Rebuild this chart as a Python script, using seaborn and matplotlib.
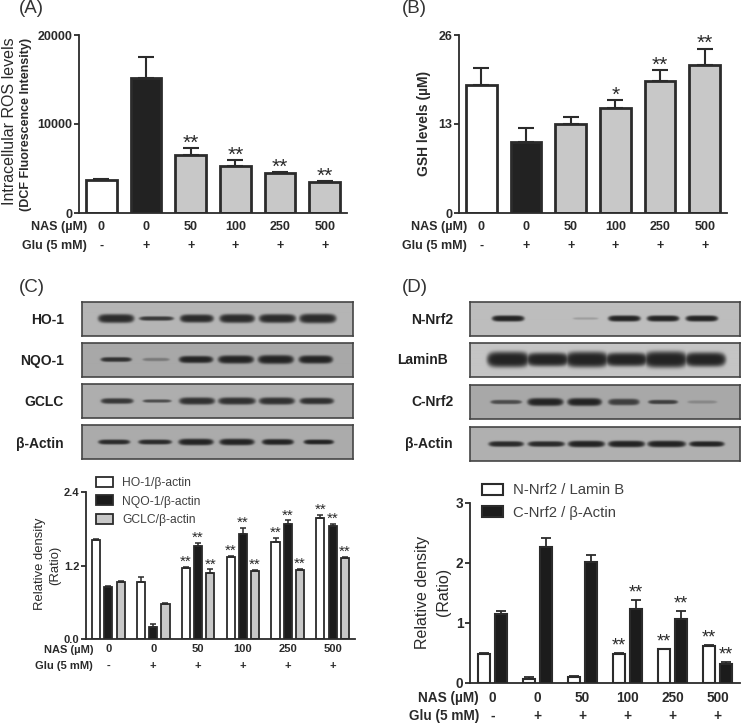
# bar charts and western blot panels, four part figure
import numpy as np
import pandas as pd
import seaborn as sns
from matplotlib import pyplot as plt

# x axis rows
lanes = [0, 1, 2, 3, 4, 5]
nas = ['0', '0', '50', '100', '250', '500']
glu = ['-', '+', '+', '+', '+', '+']

# (A) ROS
ros = [3670, 15170, 6520, 5240, 4460, 3480]
ros_err = [110, 2320, 750, 680, 110, 120]
ros_stars = ['', '', '**', '**', '**', '**']

# (B) GSH
gsh = [18.65, 10.37, 12.95, 15.3, 19.3, 21.6]
gsh_err = [2.55, 2.03, 1.05, 1.15, 1.6, 2.4]
gsh_stars = ['', '', '', '*', '**', '**']

# (C) density
ho1 = [1.61, 0.925, 1.165, 1.344, 1.584, 1.981]
ho1_err = [0.025, 0.08, 0.012, 0.012, 0.07, 0.05]
nqo1 = [0.854, 0.20, 1.513, 1.714, 1.878, 1.84]
nqo1_err = [0.012, 0.045, 0.05, 0.098, 0.06, 0.043]
gclc = [0.936, 0.571, 1.078, 1.116, 1.132, 1.328]
gclc_err = [0.015, 0.017, 0.06, 0.012, 0.012, 0.012]
c_stars = ['', '', '**', '**', '**', '**']
c_names = ['HO-1/β-actin', 'NQO-1/β-actin', 'GCLC/β-actin']

# (D) density
n_nrf2 = [0.49, 0.07, 0.105, 0.49, 0.56, 0.62]
n_nrf2_err = [0.012, 0.025, 0.018, 0.012, 0.012, 0.012]
c_nrf2 = [1.155, 2.27, 2.02, 1.23, 1.075, 0.31]
c_nrf2_err = [0.045, 0.14, 0.11, 0.15, 0.125, 0.04]
d_stars = ['', '', '', '**', '**', '**']
d_names = ['N-Nrf2 / Lamin B', 'C-Nrf2 / β-Actin']

# blot bands, one value per lane: strength, length (lane units), thickness (panel units)
ho1_band = ([0.95, 0.85, 0.95, 0.95, 0.95, 0.95], [0.9, 0.86, 0.84, 0.88, 0.92, 0.92], [0.26, 0.13, 0.24, 0.26, 0.26, 0.28])
nqo1_band = ([0.9, 0.35, 1, 1, 1, 1], [0.78, 0.68, 0.86, 0.9, 0.9, 0.86], [0.14, 0.1, 0.21, 0.24, 0.26, 0.24])
gclc_band = ([0.85, 0.7, 0.9, 0.9, 0.9, 0.9], [0.82, 0.72, 0.9, 0.94, 0.9, 0.86], [0.17, 0.1, 0.22, 0.22, 0.22, 0.2])
actin_c_band = ([0.95, 0.95, 1, 1, 1, 1], [0.78, 0.82, 0.86, 0.86, 0.78, 0.74], [0.15, 0.15, 0.2, 0.2, 0.18, 0.15])
nnrf2_band = ([1, 0, 0.2, 1, 1, 1], [0.84, 0, 0.66, 0.84, 0.84, 0.84], [0.18, 0, 0.07, 0.18, 0.18, 0.18])
lamin_band = ([1, 1, 1, 1, 1, 1], [1.08, 1.1, 1.1, 1.1, 1.1, 1.05], [0.46, 0.4, 0.46, 0.4, 0.48, 0.42])
cnrf2_band = ([0.7, 1, 1, 0.8, 0.8, 0.25], [0.8, 0.92, 0.88, 0.8, 0.76, 0.76], [0.13, 0.24, 0.24, 0.2, 0.13, 0.1])
actin_d_band = ([0.95, 0.95, 1, 1, 1, 1], [0.88, 0.92, 0.92, 0.92, 0.96, 0.88], [0.17, 0.17, 0.2, 0.2, 0.2, 0.17])

W, H = 742, 724
DARK = '#2b2b2b'
TXT = '#2a2a2a'
GREY = '#c8c8c8'

sns.set_style('ticks')
plt.rcParams['font.family'] = ['Liberation Sans', 'DejaVu Sans']
fig = plt.figure(figsize=(W / 100, H / 100), dpi=100)


def axes_px(left, top, right, bottom):
    return fig.add_axes([left / W, 1 - bottom / H, (right - left) / W, (bottom - top) / H])


def txt(x, y, s, **kw):
    kw.setdefault('color', TXT)
    kw.setdefault('va', 'center')
    return fig.text(x / W, 1 - y / H, s, **kw)


def finish_axis(ax, ymax, yticks, fs, row_x, row1, row2, base):
    ax.set_xlim(-0.5, 5.5)
    ax.set_ylim(0, ymax)
    ax.set_yticks(yticks)
    ax.set_xlabel('')
    ax.set_ylabel('')
    ax.set_xticks(lanes, nas)
    sns.despine(ax=ax)
    for s in ['left', 'bottom']:
        ax.spines[s].set_linewidth(1.3)
        ax.spines[s].set_color(DARK)
    ax.tick_params(axis='y', length=3.8, width=1.3, color=DARK, pad=1, labelsize=fs, labelcolor=TXT)
    ax.tick_params(axis='x', length=0, pad=(row1 - base) * 0.72 - fs * 0.5, labelsize=fs, labelcolor=TXT)
    for lab in ax.get_xticklabels() + ax.get_yticklabels():
        lab.set_fontweight('bold')
    for i, g in enumerate(glu):
        ax.annotate(g, (i, 0), xycoords=ax.get_xaxis_transform(), xytext=(0, -(row2 - base)),
                    textcoords='offset pixels', ha='center', va='center',
                    fontsize=fs, fontweight='bold', color=TXT)
    txt(row_x, row1, 'NAS (µM)', ha='right', fontsize=fs, fontweight='bold')
    txt(row_x, row2, 'Glu (5 mM)', ha='right', fontsize=fs, fontweight='bold')


def add_err(ax, container, err, stars, cap, lw, gap, star_fs):
    xs = [b.get_x() + b.get_width() / 2 for b in container]
    ys = [b.get_height() for b in container]
    ax.errorbar(xs, ys, yerr=[[0] * len(err), err], fmt='none', ecolor=DARK,
                elinewidth=lw, capsize=cap, capthick=lw, zorder=5)
    for x, y, e, st in zip(xs, ys, err, stars):
        if st:
            ax.annotate(st, (x, y + e), xytext=(0, gap), textcoords='offset pixels',
                        ha='center', va='center', fontsize=star_fs, color=TXT)


def single_panel(rect, vals, err, stars, ymax, yticks):
    ax = axes_px(*rect)
    df = pd.DataFrame({'lane': lanes, 'value': vals})
    sns.barplot(data=df, x='lane', y='value', color='white', width=0.68,
                edgecolor=DARK, linewidth=2.0, ax=ax)
    fills = ['white', '#222222', GREY, GREY, GREY, GREY]
    for b, c in zip(ax.containers[0], fills):
        b.set_facecolor(c)
    add_err(ax, ax.containers[0], err, stars, 5.8, 1.5, 5, 15)
    finish_axis(ax, ymax, yticks, 9, rect[0] + 8, 227, 246, 213)
    return ax


def group_panel(rect, series, names, colors, width, gap, lw):
    ax = axes_px(*rect)
    df = pd.DataFrame({
        'lane': lanes * len(series),
        'series': [n for n in names for _ in lanes],
        'value': [v for s in series for v in s],
    })
    sns.barplot(data=df, x='lane', y='value', hue='series', palette=colors, width=width, gap=gap,
                edgecolor=DARK, linewidth=lw, saturation=1, ax=ax)
    return ax


def draw_blot(rect, band, bg, first, step):
    ax = axes_px(*rect)
    strength, length, thick = band
    nx, ny = int(rect[2] - rect[0]) * 2, int(rect[3] - rect[1]) * 2
    x0 = (rect[0] - first) / step
    x1 = (rect[2] - first) / step
    xx, yy = np.meshgrid(np.linspace(x0, x1, nx), np.linspace(0, 1, ny))
    dark = np.zeros_like(xx)
    for lane, s, ln, t in zip(lanes, strength, length, thick):
        if s == 0:
            continue
        u = (xx - lane) / (ln / 2)
        v = (yy - 0.5) / (t / 2)
        dark = np.maximum(dark, s * np.exp(-(u ** 6 + v ** 2) ** 2))
    ax.imshow(bg * (1 - dark) + 0.14 * dark, cmap='gray', vmin=0, vmax=1, aspect='auto',
              extent=[x0, x1, 1, 0], interpolation='bilinear')
    ax.set_xticks([])
    ax.set_yticks([])
    for s in ax.spines.values():
        s.set_linewidth(1.2)
        s.set_color('#454545')


# (A)
single_panel((79, 35, 347, 213), ros, ros_err, ros_stars, 20000, [0, 10000, 20000])
txt(9.5, 121, 'Intracellular ROS levels', rotation=90, ha='center', fontsize=11.5)
txt(26, 124, '(DCF Fluorescence Intensity)', rotation=90, ha='center', fontsize=9, fontweight='bold')

# (B)
single_panel((459, 35, 727, 213), gsh, gsh_err, gsh_stars, 26, [0, 13, 26])
txt(424, 123, 'GSH levels (µM)', rotation=90, ha='center', fontsize=10, fontweight='bold')

# (C)
ax_c = group_panel((86, 492, 355, 639), [ho1, nqo1, gclc], c_names, ['white', '#1c1c1c', GREY],
                   0.815, 0.33, 1.3)
for cont, err in zip(ax_c.containers, [ho1_err, nqo1_err, gclc_err]):
    add_err(ax_c, cont, err, c_stars, 2.2, 1.1, 5, 11)
sns.move_legend(ax_c, 'upper left', bbox_to_anchor=(96 / W, 1 - 476.5 / H), bbox_transform=fig.transFigure,
                title=None, frameon=False, fontsize=8.7, handlelength=1.41, handleheight=0.9,
                labelspacing=0.55, handletextpad=0.75, borderpad=0, borderaxespad=0, labelcolor='#404040')
finish_axis(ax_c, 2.4, [0, 1.2, 2.4], 8, 93, 650, 666, 639)
txt(40, 564, 'Relative density', rotation=90, ha='center', fontsize=9.4)
txt(55, 565, '(Ratio)', rotation=90, ha='center', fontsize=9.4)

# (D)
ax_d = group_panel((470, 503, 740, 683), [n_nrf2, c_nrf2], d_names, ['white', '#1c1c1c'],
                   0.755, 0.32, 1.5)
for cont, err in zip(ax_d.containers, [n_nrf2_err, c_nrf2_err]):
    add_err(ax_d, cont, err, d_stars, 3.6, 1.3, 7, 13)
sns.move_legend(ax_d, 'upper left', bbox_to_anchor=(482 / W, 1 - 483.5 / H), bbox_transform=fig.transFigure,
                title=None, frameon=False, fontsize=10.7, handlelength=1.4, handleheight=0.75,
                labelspacing=0.55, handletextpad=0.7, borderpad=0, borderaxespad=0, labelcolor='#404040')
finish_axis(ax_d, 3, [0, 1, 2, 3], 9.8, 479, 698, 716, 683)
txt(423, 592, 'Relative density', rotation=90, ha='center', fontsize=11.5)
txt(443, 592, '(Ratio)', rotation=90, ha='center', fontsize=11.5)

# blots
draw_blot((82, 302, 353, 336), ho1_band, 0.71, 116, 40.4)
draw_blot((82, 343, 353, 377), nqo1_band, 0.66, 116, 40.0)
draw_blot((82, 384, 353, 418), gclc_band, 0.68, 117, 40.0)
draw_blot((82, 425, 353, 459), actin_c_band, 0.67, 114, 41.0)
draw_blot((470, 302, 740, 336), nnrf2_band, 0.74, 508, 38.8)
draw_blot((470, 343, 740, 377), lamin_band, 0.77, 508, 39.5)
draw_blot((470, 385, 740, 419), cnrf2_band, 0.66, 506, 39.3)
draw_blot((470, 427, 740, 461), actin_d_band, 0.69, 506, 40.2)

for y, s in zip([320, 361, 402, 444], ['HO-1', 'NQO-1', 'GCLC', 'β-Actin']):
    txt(64, y, s, ha='right', fontsize=10, fontweight='bold', color='#222222')
for y, s, x in zip([320, 360, 402, 444], ['N-Nrf2', 'LaminB', 'C-Nrf2', 'β-Actin'], [453, 448, 453, 453]):
    txt(x, y, s, ha='right', fontsize=10, fontweight='bold', color='#222222')

# panel letters
for x, y, s in [(19, 8.5, '(A)'), (402, 8.5, '(B)'), (19, 288, '(C)'), (402, 288, '(D)')]:
    txt(x, y, s, ha='left', fontsize=13.5, color='#333333')

fig.savefig('out.png', dpi=100)
